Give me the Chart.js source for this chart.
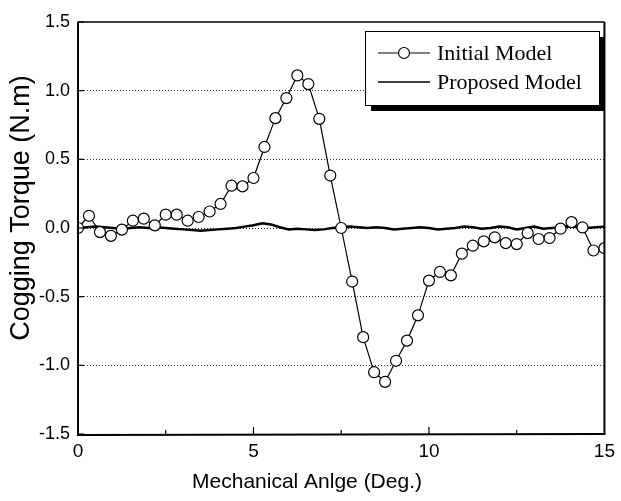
<!DOCTYPE html>
<html><head><meta charset="utf-8">
<script src="https://cdn.jsdelivr.net/npm/chart.js@4.4.0/dist/chart.umd.min.js"></script>
<style>html,body{margin:0;padding:0;background:#fff;overflow:hidden}#wrap{width:621px;height:501px}</style>
</head><body><div id="wrap"><canvas id="c" width="621" height="501"></canvas></div>
<script>
const initialAngles = [0, 0.3125, 0.625, 0.9375, 1.25, 1.5625, 1.875, 2.1875, 2.5, 2.8125, 3.125, 3.4375, 3.75, 4.0625, 4.375, 4.6875, 5, 5.3125, 5.625, 5.9375, 6.25, 6.5625, 6.875, 7.1875, 7.5, 7.8125, 8.125, 8.4375, 8.75, 9.0625, 9.375, 9.6875, 10, 10.3125, 10.625, 10.9375, 11.25, 11.5625, 11.875, 12.1875, 12.5, 12.8125, 13.125, 13.4375, 13.75, 14.0625, 14.375, 14.6875, 15];
const initialTorque = [0.0, 0.089, -0.03, -0.057, -0.012, 0.053, 0.068, 0.019, 0.097, 0.097, 0.053, 0.08, 0.12, 0.175, 0.308, 0.303, 0.364, 0.59, 0.80, 0.946, 1.111, 1.048, 0.795, 0.382, 0.0, -0.39, -0.795, -1.05, -1.12, -0.967, -0.82, -0.636, -0.383, -0.32, -0.345, -0.187, -0.129, -0.097, -0.068, -0.11, -0.117, -0.037, -0.08, -0.073, -0.005, 0.043, 0.004, -0.164, -0.147];
const proposedAngles = [0, 0.25, 0.5, 0.75, 1, 1.25, 1.5, 1.75, 2, 2.25, 2.5, 2.75, 3, 3.25, 3.5, 3.75, 4, 4.25, 4.5, 4.75, 5, 5.25, 5.5, 5.75, 6, 6.25, 6.5, 6.75, 7, 7.25, 7.5, 7.75, 8, 8.25, 8.5, 8.75, 9, 9.25, 9.5, 9.75, 10, 10.25, 10.5, 10.75, 11, 11.25, 11.5, 11.75, 12, 12.25, 12.5, 12.75, 13, 13.25, 13.5, 13.75, 14, 14.25, 14.5, 14.75, 15];
const proposedTorque = [0.0, 0.005, 0.01, 0.005, 0.0, -0.005, 0.0, 0.005, 0.0, 0.005, 0.0, -0.005, -0.01, -0.015, -0.02, -0.015, -0.01, -0.005, 0.0, 0.01, 0.02, 0.035, 0.025, 0.005, -0.01, -0.005, -0.01, -0.015, -0.01, 0.0, 0.005, 0.01, 0.005, 0.0, 0.005, 0.0, -0.01, -0.005, 0.0, 0.005, 0.0, -0.01, -0.005, 0.0, 0.01, 0.005, -0.005, 0.0, 0.01, 0.005, -0.01, 0.0, 0.01, -0.005, 0.0, 0.005, 0.01, 0.005, 0.0, 0.005, 0.01];
const xTickValues = [0, 5, 10, 15];
const xMinorTicks = [2.5, 5, 7.5, 10, 12.5];
const yTickValues = [-1.5, -1.0, -0.5, 0.0, 0.5, 1.0, 1.5];
const seriesNames = ['Initial Model', 'Proposed Model'];
const xTitle = 'Mechanical Anlge (Deg.)';
const yTitle = 'Cogging Torque (N.m)';

const SANS = '"Liberation Sans", Arial, sans-serif';
const SERIF = '"Liberation Serif", "Times New Roman", serif';

const decor = {
  id: 'decor',
  afterDraw(chart) {
    const {ctx, chartArea: a, scales: {x, y}} = chart;
    ctx.save();
    ctx.strokeStyle = '#000';
    // frame
    ctx.lineWidth = 1.5;
    ctx.beginPath(); ctx.moveTo(a.left, a.top); ctx.lineTo(a.right, a.top); ctx.stroke();
    ctx.lineWidth = 2;
    ctx.beginPath(); ctx.moveTo(a.right, a.top); ctx.lineTo(a.right, a.bottom); ctx.stroke();
    ctx.beginPath(); ctx.moveTo(a.left, a.top - 0.5); ctx.lineTo(a.left, a.bottom + 1); ctx.lineTo(a.right + 1, a.bottom); ctx.stroke();
    // inward ticks
    ctx.lineWidth = 1.2;
    xMinorTicks.forEach(v => {
      const px = x.getPixelForValue(v);
      const len = (v % 5 === 0) ? 7 : 4;
      ctx.beginPath(); ctx.moveTo(px, a.bottom); ctx.lineTo(px, a.bottom - len); ctx.stroke();
    });
    yTickValues.forEach(v => {
      const py = y.getPixelForValue(v);
      ctx.beginPath(); ctx.moveTo(a.left, py); ctx.lineTo(a.left + 6, py); ctx.stroke();
    });
    // titles
    ctx.fillStyle = '#000';
    ctx.textAlign = 'center';
    ctx.textBaseline = 'middle';
    ctx.font = '21px ' + SANS;
    ctx.fillText(xTitle, 307, 482);
    ctx.save();
    ctx.translate(22, 208);
    ctx.rotate(-Math.PI / 2);
    ctx.font = '27px ' + SANS;
    ctx.fillText(yTitle, 0, 0);
    ctx.restore();
    // legend
    const bx = 365, by = 31, bw = 234, bh = 74;
    ctx.fillStyle = '#000';
    ctx.fillRect(bx + 6, by + 6, bw, bh);
    ctx.fillStyle = '#fff';
    ctx.fillRect(bx, by, bw, bh);
    ctx.lineWidth = 1;
    ctx.strokeRect(bx + 0.5, by + 0.5, bw, bh);
    const rows = [53, 82];
    ctx.lineWidth = 1.2;
    ctx.beginPath(); ctx.moveTo(378, rows[0]); ctx.lineTo(430, rows[0]); ctx.stroke();
    ctx.beginPath(); ctx.arc(404, rows[0], 5.5, 0, Math.PI * 2); ctx.fillStyle = '#fff'; ctx.fill(); ctx.stroke();
    ctx.lineWidth = 1.6;
    ctx.beginPath(); ctx.moveTo(378, rows[1]); ctx.lineTo(430, rows[1]); ctx.stroke();
    ctx.fillStyle = '#000';
    ctx.textAlign = 'left';
    ctx.textBaseline = 'middle';
    ctx.font = '22px ' + SERIF;
    ctx.fillText(seriesNames[0], 437, rows[0] + 1);
    ctx.fillText(seriesNames[1], 437, rows[1] + 1);
    ctx.restore();
  }
};

new Chart(document.getElementById('c'), {
  type: 'line',
  data: {
    datasets: [
      {
        label: seriesNames[0],
        data: initialAngles.map((a, i) => ({x: a, y: initialTorque[i]})),
        borderColor: '#000', borderWidth: 1.2,
        pointRadius: 5.5, pointBackgroundColor: '#fff', pointBorderColor: '#000', pointBorderWidth: 1.2,
        tension: 0, fill: false
      },
      {
        label: seriesNames[1],
        data: proposedAngles.map((a, i) => ({x: a, y: proposedTorque[i]})),
        borderColor: '#000', borderWidth: 2.5,
        pointRadius: 0, tension: 0, fill: false
      }
    ]
  },
  options: {
    responsive: false, animation: false, devicePixelRatio: 1,
    layout: {padding: {left: 0, right: 11, top: 22, bottom: 0}},
    plugins: {legend: {display: false}, tooltip: {enabled: false}},
    scales: {
      x: {
        type: 'linear', min: 0, max: 15,
        afterBuildTicks: s => { s.ticks = xTickValues.map(v => ({value: v})); },
        afterFit: s => { s.height = 67; },
        ticks: {font: {size: 19, family: SANS}, color: '#000', padding: 6, maxRotation: 0, autoSkip: false},
        grid: {display: false, drawTicks: false},
        border: {display: false}
      },
      y: {
        type: 'linear', min: -1.5, max: 1.5,
        afterBuildTicks: s => { s.ticks = yTickValues.map(v => ({value: v})); },
        afterFit: s => { s.width = 78; },
        ticks: {font: {size: 18, family: SANS}, color: '#000', padding: 8, callback: v => Number(v).toFixed(1)},
        grid: {
          drawTicks: false,
          color: c => (Math.abs(c.tick.value) === 1.5 ? 'rgba(0,0,0,0)' : '#333'),
          lineWidth: 1
        },
        border: {display: false, dash: [1, 2]}
      }
    }
  },
  plugins: [decor]
});
</script>
</body></html>
